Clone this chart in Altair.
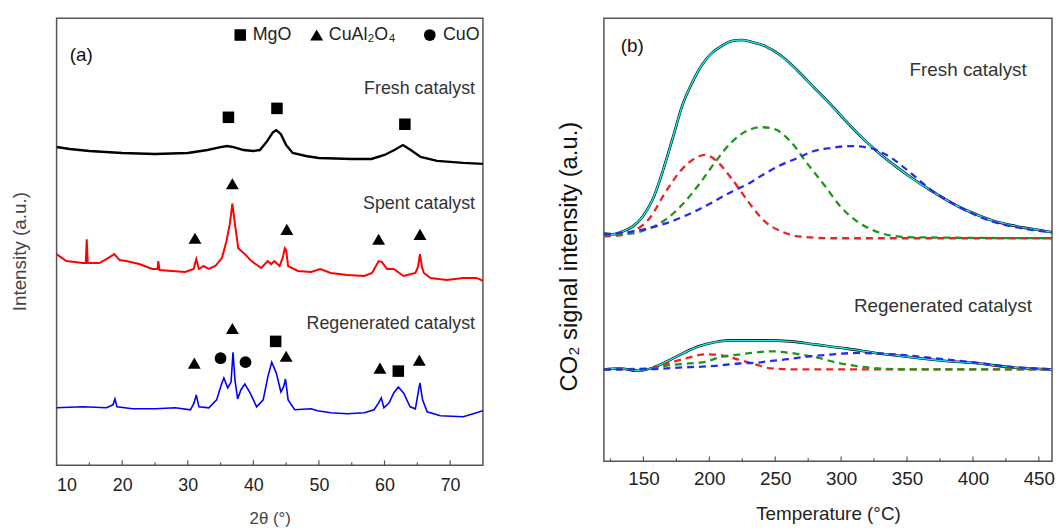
import altair as alt
import pandas as pd

FONT = "Liberation Sans"

# ---------------- Panel (a): XRD patterns ----------------
fresh_x = [10, 12, 15, 20, 25, 30, 33, 35, 36, 37, 38.5, 40, 41, 42, 43, 43.5, 44.2, 45, 46, 48,
           50, 55, 58, 60, 61.5, 62.8, 64, 65.5, 68, 72, 75]
fresh_y = [321, 319, 317, 315, 314, 315, 318, 321, 322, 321, 318, 317, 318, 326, 336, 338, 334, 323, 315, 312,
           310, 309, 309, 313, 318, 323, 318, 311, 307, 305, 304]

spent_x = [10, 11.5, 14, 14.45, 14.6, 14.75, 16.5, 17.6, 18.8, 19.6, 20.6, 22.6, 24.6, 25.4, 25.5, 25.7,
           27.6, 29.6, 30.9, 31.3, 31.7, 32.4, 33.2, 34.2, 35.2, 35.9, 36.4, 36.8, 37.2, 37.7, 38.7,
           39.7, 41.2, 42.2, 42.7, 43.2, 44.0, 44.5, 44.8, 45.0, 45.3, 46.8, 48.8, 50.2, 51.8, 54.3,
           56.9, 58.1, 59.1, 59.6, 60.4, 61.4, 62.9, 64.7, 65.1, 65.4, 65.7, 66.0, 67.0, 69.5, 72.0,
           74.0, 75]
spent_y = [213, 206, 204, 204, 228, 204, 204, 208, 213, 207, 206, 203, 198, 198, 206, 197,
           196, 195, 198, 208, 198, 201, 198, 201, 209, 226, 243, 264, 243, 219, 213,
           206, 199, 206, 203, 206, 201, 210, 219, 217, 201, 196, 195, 198, 194, 192,
           191, 194, 206, 205, 198, 198, 191, 194, 200, 213, 200, 194, 189, 187, 189,
           189, 186]

regen_x = [10, 14, 17.6, 18.6, 18.9, 19.2, 21.6, 25.1, 28.1, 30.4, 30.96, 31.3, 31.7, 33.2, 34.4,
           35.1, 35.5, 36.1, 36.6, 36.9, 37.2, 37.6, 38.1, 38.7, 39.5, 40.5, 41.5, 42.2, 42.8, 43.5,
           44.2, 44.6, 44.9, 45.3, 46.3, 48.8, 49.8, 51.8, 54.3, 56.9, 58.4, 59.1, 59.5, 59.9, 60.7,
           61.4, 62.1, 62.9, 63.9, 64.7, 65.2, 65.4, 65.8, 66.5, 68.5, 72.0, 74.0, 75]
regen_y = [58, 59, 58, 61, 67, 59, 57, 57, 58, 56, 63, 71, 59, 58, 66,
           81, 88, 78, 84, 114, 86, 67, 76, 82, 73, 59, 66, 89, 104, 93,
           74, 79, 87, 66, 56, 57, 55, 53, 52, 53, 56, 63, 68, 58, 63,
           73, 79, 73, 59, 57, 76, 83, 66, 54, 50, 49, 53, 55]

series_names = ["Fresh catalyst", "Spent catalyst", "Regenerated catalyst"]
series_colors = ["#000000", "#ff0000", "#0000ff"]
series_widths = [2.4, 1.6, 1.6]

# phase markers: (2theta, height)
mgo_x = [36.2, 43.6, 63.1, 43.4, 62.1]
mgo_y = [351, 360, 344, 125, 95]
spinel_x = [36.8, 31.1, 45.1, 59.1, 65.4, 36.8, 31.0, 45.0, 59.3, 65.3]
spinel_y = [284, 229, 238, 228, 233, 138, 103, 110, 98, 106]
cuo_x = [35.0, 38.8]
cuo_y = [108, 104]

legend_sym_x = [38.0, 49.65, 66.9]
legend_sym_y = [434, 434, 434]
legend_labels = ["MgO", "CuAl₂O₄", "CuO"]
legend_text_x = [39.9, 51.5, 68.9]

a_label_x = [73.8, 73.8, 73.8]
a_label_y = [379, 264, 142]

a_ticks_major = [10, 20, 30, 40, 50, 60, 70]
a_ticks_minor = [15, 25, 35, 45, 55, 65]

# ---------------- Panel (b): CO2-TPD ----------------
f_T = [119.5, 127, 134.5, 142, 149.5, 157, 164.5, 172, 179.5, 187, 194.5, 202, 209.5, 217, 224.5, 232,
       242, 254.5, 267, 279.5, 292, 304.5, 317, 329.5, 342, 354.5, 367, 379.5, 392, 404.5, 417,
       429.5, 442, 460]
f_total = [230, 229, 232, 237, 247, 264, 292, 325, 359, 382, 400, 412, 419, 424, 425, 423,
           419, 409, 394, 377, 360, 342, 325, 310, 297, 285, 274, 264, 255, 248, 242,
           238, 235, 231]

f_red_T = [120, 132, 142, 154.5, 167, 179.5, 189.5, 197, 204.5, 217, 229.5, 242, 254.5, 267, 292, 460]
f_red = [227, 228, 232, 245, 272, 295, 306, 309, 304, 285, 262, 242, 232, 227, 225, 225]

f_green_T = [120, 142, 154.5, 167, 179.5, 192, 204.5, 217, 229.5, 239.5, 249.5, 262, 274.5, 287,
             299.5, 312, 324.5, 337, 354.5, 460]
f_green = [228, 230, 235, 244, 259, 279, 302, 322, 334, 337, 335, 322, 300, 279,
           257, 242, 233, 228, 226, 225]

f_blue_T = [120, 142, 167, 192, 217, 229.5, 242, 254.5, 267, 279.5, 292, 307, 322, 334.5, 354.5,
            367, 379.5, 392, 404.5, 417, 429.5, 442, 460]
f_blue = [229, 232, 240, 254, 272, 280, 290, 299, 306, 313, 316, 318, 316, 309, 289,
          275, 264, 255, 247, 241, 237, 234, 231]

r_T = [119.5, 132, 145.75, 157, 167, 179.5, 192, 204.5, 214.5, 242, 262, 279.5, 304.5, 329.5,
       354.5, 379.5, 404.5, 429.5, 460]
r_total = [92.7, 93.7, 91.3, 94.3, 100.3, 108.7, 116, 120.3, 122, 122, 121, 118, 113.7, 108.7,
           104.7, 101.3, 98.7, 94.7, 92.7]

r_red_T = [120, 154.5, 169.5, 184.5, 197, 209.5, 222, 234.5, 247, 267, 460]
r_red = [92.7, 93.7, 99.3, 104.7, 108, 107, 102.7, 98, 93.7, 92.7, 92.7]

r_green_T = [120, 154.5, 169.5, 184.5, 197, 207, 222, 234.5, 247, 259.5, 269.5, 282, 294.5, 307,
             319.5, 334.5, 354.5, 460]
r_green = [92.7, 93.3, 97, 98.7, 100.3, 104.7, 107.7, 109.7, 111, 109.7, 107.7, 104.7, 100.3, 97,
           94.7, 93.3, 92.7, 92.7]

r_blue_T = [120, 154.5, 179.5, 204.5, 222, 234.5, 247, 259.5, 272, 292, 312, 329.5, 354.5, 379.5,
            404.5, 429.5, 460]
r_blue = [92.7, 93, 94.7, 96.3, 98.7, 99.3, 101.3, 103, 105.3, 107.7, 109.3, 108.7, 106.3, 102.7,
          99.3, 95.3, 93]

comp_names = ["Peak I", "Peak II", "Peak III"]
comp_colors = ["#ee2222", "#1a961a", "#2a2aee"]

b_ticks_major = [150, 200, 250, 300, 350, 400, 450]
b_ticks_minor = [125, 175, 225, 275, 325, 375, 425]

b_label_T = [132.75, 440.8, 444.75]
b_label_y = [419, 395, 157]
b_labels = ["(b)", "Fresh catalyst", "Regenerated catalyst"]

# ---------------- build panel (a) ----------------
W_A, H_A = 430, 451
W_B, H_B = 452, 447
FRAME = "#555555"

xa = alt.Scale(domain=[10, 75], nice=False, zero=False)
ya = alt.Scale(domain=[0, 451], nice=False, zero=False)

xrd_rows = []
for name, xs, ys in zip(series_names, [fresh_x, spent_x, regen_x], [fresh_y, spent_y, regen_y]):
    for x, y in zip(xs, ys):
        xrd_rows.append({"x": x, "y": y, "series": name})
xrd = pd.DataFrame(xrd_rows)

x_axis_a = alt.Axis(values=a_ticks_major, labelFontSize=18, labelColor="#222", labelPadding=11,
                    ticks=False, tickSize=0, domain=False, grid=False, labelFont=FONT,
                    title="2θ (°)", titleFontSize=17, titleFontWeight="normal", titleColor="#444",
                    titleFont=FONT, titleY=54, titleBaseline="middle")
y_axis_a = alt.Axis(labels=False, ticks=False, tickSize=0, domain=False, grid=False,
                    title="Intensity (a.u.)", titleFontSize=19, titleFontWeight="normal",
                    titleColor="#444", titleFont=FONT, titleX=-37, titleY=235, titleBaseline="middle")

lines_a = alt.Chart(xrd).mark_line(clip=True).encode(
    x=alt.X("x:Q", scale=xa, axis=x_axis_a),
    y=alt.Y("y:Q", scale=ya, axis=y_axis_a),
    color=alt.Color("series:N", scale=alt.Scale(domain=series_names, range=series_colors), legend=None),
    strokeWidth=alt.StrokeWidth("series:N", scale=alt.Scale(domain=series_names, range=series_widths),
                                legend=None),
    detail="series:N",
)

mgo_df = pd.DataFrame({"x": mgo_x + [legend_sym_x[0]], "y": mgo_y + [legend_sym_y[0]]})
sp_df = pd.DataFrame({"x": spinel_x + [legend_sym_x[1]], "y": spinel_y + [legend_sym_y[1]]})
cuo_df = pd.DataFrame({"x": cuo_x + [legend_sym_x[2]], "y": cuo_y + [legend_sym_y[2]]})

sq = alt.Chart(mgo_df).mark_point(shape="square", filled=True, color="black", opacity=1, size=135).encode(
    x=alt.X("x:Q", scale=xa), y=alt.Y("y:Q", scale=ya))
tri = alt.Chart(sp_df).mark_point(shape="triangle-up", filled=True, color="black", opacity=1, size=170).encode(
    x=alt.X("x:Q", scale=xa), y=alt.Y("y:Q", scale=ya))
circ = alt.Chart(cuo_df).mark_point(shape="circle", filled=True, color="black", opacity=1, size=140).encode(
    x=alt.X("x:Q", scale=xa), y=alt.Y("y:Q", scale=ya))

leg_txt = alt.Chart(pd.DataFrame({"x": legend_text_x, "y": legend_sym_y, "t": legend_labels})).mark_text(
    align="left", baseline="middle", fontSize=18, font=FONT, color="#222").encode(
    x=alt.X("x:Q", scale=xa), y=alt.Y("y:Q", scale=ya), text="t:N")

a_txt = alt.Chart(pd.DataFrame({"x": a_label_x, "y": a_label_y, "t": series_names})).mark_text(
    align="right", baseline="middle", fontSize=18, font=FONT, color="#333").encode(
    x=alt.X("x:Q", scale=xa), y=alt.Y("y:Q", scale=ya), text="t:N")

a_tag = alt.Chart(pd.DataFrame({"x": [12.0], "y": [414], "t": ["(a)"]})).mark_text(
    align="left", baseline="middle", fontSize=19, font=FONT, color="#111").encode(
    x=alt.X("x:Q", scale=xa), y=alt.Y("y:Q", scale=ya), text="t:N")

a_major = alt.Chart(pd.DataFrame({"t": a_ticks_major})).mark_rule(color=FRAME, strokeWidth=1.2).encode(
    x=alt.X("t:Q", scale=xa), y=alt.value(H_A), y2=alt.value(H_A - 5))
a_minor = alt.Chart(pd.DataFrame({"t": a_ticks_minor})).mark_rule(color=FRAME, strokeWidth=1.2).encode(
    x=alt.X("t:Q", scale=xa), y=alt.value(H_A), y2=alt.value(H_A - 3))

panel_a = alt.layer(a_major, a_minor, lines_a, sq, tri, circ, leg_txt, a_txt, a_tag).properties(
    width=W_A, height=H_A)

# ---------------- build panel (b) ----------------
xb = alt.Scale(domain=[120, 460], nice=False, zero=False)
yb = alt.Scale(domain=[0, 447], nice=False, zero=False)

x_axis_b = alt.Axis(values=b_ticks_major, labelFontSize=19, labelColor="#222", labelPadding=8,
                    ticks=False, tickSize=0, domain=False, grid=False, labelFont=FONT,
                    title="Temperature (°C)", titleFontSize=19, titleFontWeight="normal",
                    titleColor="#222", titleFont=FONT, titleY=53, titleBaseline="middle")
y_axis_b = alt.Axis(labels=False, ticks=False, tickSize=0, domain=False, grid=False,
                    title="CO₂ signal intensity (a.u.)", titleFontSize=24, titleFontWeight="normal",
                    titleColor="#111", titleFont=FONT, titleX=-35, titleY=240, titleBaseline="middle")

total_rows = []
for name, xs, ys in [("Fresh", f_T, f_total), ("Regenerated", r_T, r_total)]:
    for x, y in zip(xs, ys):
        total_rows.append({"T": x, "v": y, "s": name})
tot_df = pd.DataFrame(total_rows)

comp_rows = []
for name, col, xs, ys in [
    ("Fr I", comp_names[0], f_red_T, f_red), ("Rg I", comp_names[0], r_red_T, r_red),
    ("Fr II", comp_names[1], f_green_T, f_green), ("Rg II", comp_names[1], r_green_T, r_green),
    ("Fr III", comp_names[2], f_blue_T, f_blue), ("Rg III", comp_names[2], r_blue_T, r_blue),
]:
    for x, y in zip(xs, ys):
        comp_rows.append({"T": x, "v": y, "s": name, "c": col})
comp_df = pd.DataFrame(comp_rows)

meas = alt.Chart(tot_df).mark_line(color="#000000", strokeWidth=2.6, clip=True, interpolate="monotone").encode(
    x=alt.X("T:Q", scale=xb, axis=x_axis_b),
    y=alt.Y("v:Q", scale=yb, axis=y_axis_b),
    detail="s:N")
fit = alt.Chart(tot_df).mark_line(color="#19e6e6", strokeWidth=1.5, clip=True, interpolate="monotone").encode(
    x=alt.X("T:Q", scale=xb), y=alt.Y("v:Q", scale=yb), detail="s:N")
comps = alt.Chart(comp_df).mark_line(strokeWidth=2.3, strokeDash=[7, 5], clip=True, interpolate="monotone").encode(
    x=alt.X("T:Q", scale=xb), y=alt.Y("v:Q", scale=yb),
    color=alt.Color("c:N", scale=alt.Scale(domain=comp_names, range=comp_colors), legend=None),
    detail="s:N")

b_txt_l = alt.Chart(pd.DataFrame({"x": b_label_T[:1], "y": b_label_y[:1], "t": b_labels[:1]})).mark_text(
    align="left", baseline="middle", fontSize=19, font=FONT, color="#111").encode(
    x=alt.X("x:Q", scale=xb), y=alt.Y("y:Q", scale=yb), text="t:N")
b_txt_r = alt.Chart(pd.DataFrame({"x": b_label_T[1:], "y": b_label_y[1:], "t": b_labels[1:]})).mark_text(
    align="right", baseline="middle", fontSize=19, font=FONT, color="#333").encode(
    x=alt.X("x:Q", scale=xb), y=alt.Y("y:Q", scale=yb), text="t:N")

b_major = alt.Chart(pd.DataFrame({"t": b_ticks_major})).mark_rule(color=FRAME, strokeWidth=1.2).encode(
    x=alt.X("t:Q", scale=xb), y=alt.value(H_B), y2=alt.value(H_B - 5))
b_minor = alt.Chart(pd.DataFrame({"t": b_ticks_minor})).mark_rule(color=FRAME, strokeWidth=1.2).encode(
    x=alt.X("t:Q", scale=xb), y=alt.value(H_B), y2=alt.value(H_B - 3))

panel_b = alt.layer(b_major, b_minor, meas, fit, comps, b_txt_l, b_txt_r).properties(
    width=W_B, height=H_B)

chart = alt.hconcat(panel_a, panel_b, spacing=73).resolve_scale(
    color="independent", strokeWidth="independent", x="independent", y="independent"
).properties(
    padding={"left": 2, "top": 7, "right": 0, "bottom": 0}
).configure(font=FONT).configure_view(stroke=FRAME, strokeWidth=1.5)

chart.save("out.html", embed_options={"renderer": "svg", "actions": False})
